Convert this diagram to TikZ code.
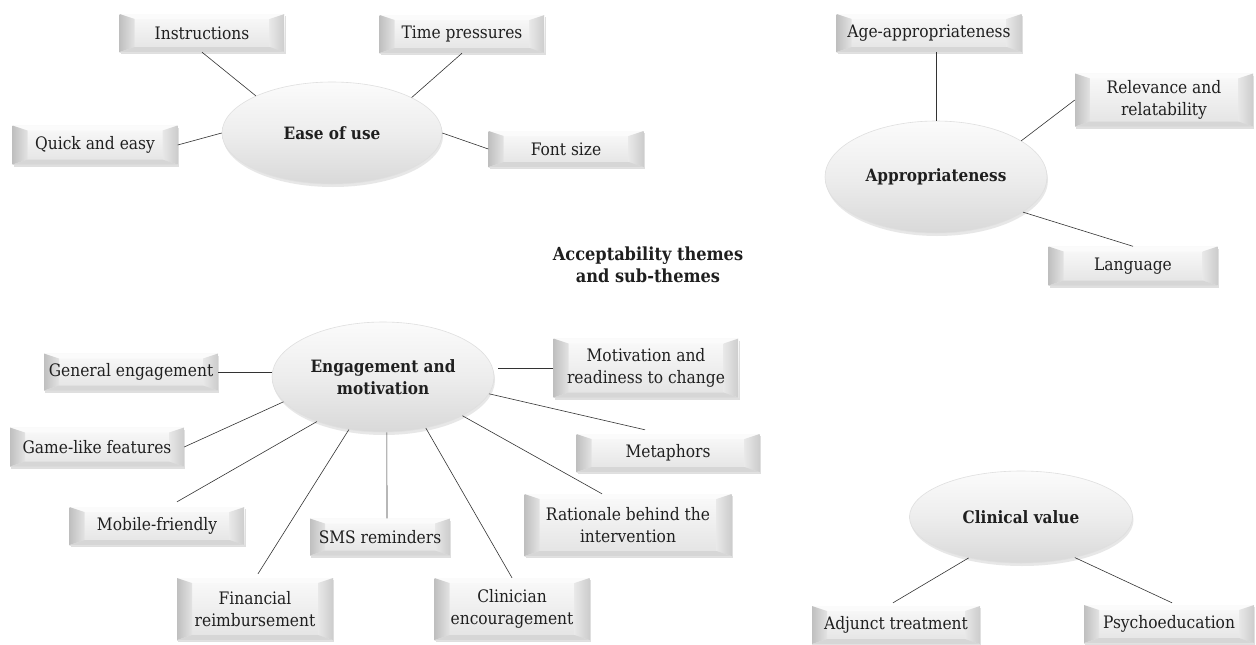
\documentclass[tikz,border=0pt]{standalone}
\usepackage{fontspec}
\setmainfont{DejaVu Serif Condensed}
\usetikzlibrary{shapes.geometric,shadows,calc}
\tikzset{
  bevelbox/.style 2 args={rectangle, minimum width=#1, minimum height=#2, inner sep=0pt,
    align=center, font=\fontsize{17.2}{22}\selectfont, text=black!88,
    fill=gray!12,
    drop shadow={shadow xshift=1pt, shadow yshift=-2pt, opacity=0.35, fill=gray!70},
    path picture={
      \coordinate (pnw) at (path picture bounding box.north west);
      \coordinate (pne) at (path picture bounding box.north east);
      \coordinate (psw) at (path picture bounding box.south west);
      \coordinate (pse) at (path picture bounding box.south east);
      \shade[top color=gray!4, bottom color=gray!22] (pnw) rectangle (pse);
      \fill[gray!3] (pnw) -- (pne) -- ([shift={(-15,5)}]pne) -- ([shift={(15,5)}]pnw) -- cycle;
      \shade[left color=gray!50, right color=gray!22] (pnw) -- ([shift={(15,5)}]pnw) -- ([shift={(15,-5)}]psw) -- (psw) -- cycle;
      \shade[left color=gray!18, right color=gray!40] (pne) -- ([shift={(-15,5)}]pne) -- ([shift={(-15,-5)}]pse) -- (pse) -- cycle;
      \fill[gray!32] (psw) -- (pse) -- ([shift={(-15,-5)}]pse) -- ([shift={(15,-5)}]psw) -- cycle;
    }},
  theme/.style 2 args={ellipse, minimum width=#1, minimum height=#2, inner sep=0pt,
    align=center, font=\fontsize{17}{22}\selectfont\bfseries, text=black!88,
    top color=gray!3, bottom color=gray!30, middle color=gray!14, draw=gray!25, line width=0.6pt,
    drop shadow={shadow xshift=1pt, shadow yshift=-3pt, opacity=0.3, fill=gray!60}},
  link/.style={draw=black!80, line width=0.6pt}
}
\begin{document}
\begin{tikzpicture}[x=1pt,y=-1pt]
\useasboundingbox (0,0) rectangle (1256,645);
\fill[white] (0,0) rectangle (1256,645);

% Ease of use
\node[theme={220}{102}] (ease) at (332,133) {Ease of use};
\node[bevelbox={165}{38}] (inst) at (202,33) {Instructions};
\node[bevelbox={165}{38}] (time) at (462,34) {Time pressures};
\node[bevelbox={165}{39}] (quick) at (95,145) {Quick and easy};
\node[bevelbox={155}{36}] (fsize) at (566,149) {Font size};
\draw[link] (inst.south) -- (ease.154);
\draw[link] (time.south) -- (ease.24);
\draw[link] (quick.east) -- (ease.180);
\draw[link] (fsize.west) -- (ease.east);

% Appropriateness
\node[theme={222}{112}] (appr) at (936,177) {Appropriateness};
\node[bevelbox={185}{38}] (age) at (929,33) {Age-appropriateness};
\node[bevelbox={178}{53}] (rel) at (1164,100) {Relevance and\\relatability};
\node[bevelbox={169}{39}] (lang) at (1133,266) {Language};
\draw[link] (appr.north) -- (appr.north |- age.south);
\draw[link] (rel.west) -- (appr.23);
\draw[link] (lang.north) -- (appr.-22);

% Title
\node[align=center, font=\fontsize{18}{22}\selectfont\bfseries, text=black!88] (title) at (648,265) {Acceptability themes\\and sub-themes};

% Engagement and motivation
\node[theme={222}{110}] (eng) at (383,377) {Engagement and\\motivation};
\node[bevelbox={174}{37}] (gen) at (131,372) {General engagement};
\node[bevelbox={174}{39}] (game) at (97,447) {Game-like features};
\node[bevelbox={175}{38}] (mob) at (157,526) {Mobile-friendly};
\node[bevelbox={156}{62}] (fin) at (255,609) {Financial\\reimbursement};
\node[bevelbox={140}{37}] (sms) at (380,537) {SMS reminders};
\node[bevelbox={155}{62}] (clinenc) at (512,609) {Clinician\\encouragement};
\node[bevelbox={185}{59}] (mot) at (646,368) {Motivation and\\readiness to change};
\node[bevelbox={183}{38}] (met) at (668,453) {Metaphors};
\node[bevelbox={207}{62}] (rat) at (628,525) {Rationale behind the\\intervention};
\draw[link] (gen.east) -- (gen.east -| eng.west);
\draw[link] (game.east) -- (eng.194);
\draw[link] ([shift={(20,-5)}]mob.north) -- (eng.214);
\draw[link] ([shift={(3,-4)}]fin.north) -- (eng.237);
\draw[link] ([shift={(7,0)}]sms.north) -- (eng.274);
\draw[link] (clinenc.north) -- (eng.310);
\draw[link, shorten >=4pt] (mot.west) -- (mot.west -| eng.east);
\draw[link] ([shift={(-23,-4)}]met.north) -- (eng.-9);
\draw[link] ([shift={(-26,0)}]rat.north) -- (eng.-26);

% Clinical value
\node[theme={223}{92}] (clin) at (1021,517) {Clinical value};
\node[bevelbox={168}{38}] (adj) at (896,625) {Adjunct treatment};
\node[bevelbox={170}{38}] (psy) at (1169,624) {Psychoeducation};
\draw[link] ([shift={(-3,-3)}]adj.north) -- (clin.218);
\draw[link] ([shift={(3,-2)}]psy.north) -- (clin.323);
\end{tikzpicture}
\end{document}
